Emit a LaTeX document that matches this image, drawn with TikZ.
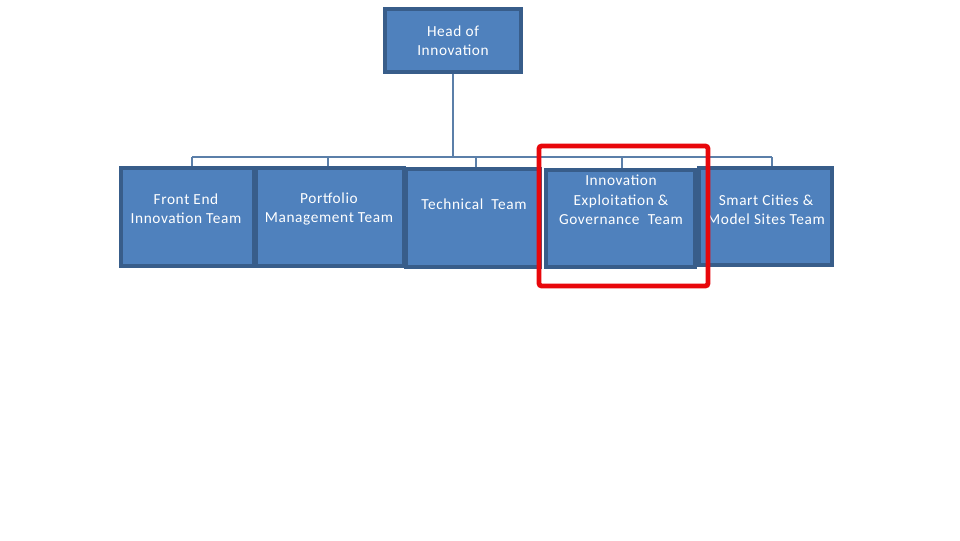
\documentclass[tikz,border=0pt]{standalone}
\usepackage{fontspec}
\setmainfont{Carlito}
\newfontfamily\spacedfont[LetterSpace=4]{Carlito}
\definecolor{boxfill}{HTML}{4F81BD}
\definecolor{boxedge}{HTML}{385D8A}
\definecolor{linecol}{HTML}{5B7FA9}
\definecolor{hlred}{HTML}{E8070B}
\begin{document}
\begin{tikzpicture}[x=0.75pt,y=-0.75pt,
  orgbox/.style={draw=boxedge, fill=boxfill, line width=2.3pt, inner sep=0pt},
  orgtext/.style={text=white, align=center, font=\spacedfont\fontsize{11.5}{14.5}\selectfont, inner sep=0pt},
  conn/.style={draw=linecol, line width=0.8pt},
  highlight/.style={draw=hlred, line width=3.6pt, rounded corners=2pt, inner sep=0pt}]
\useasboundingbox (0,0) rectangle (960,540);
% boxes
\node[orgbox, minimum width=136*0.75pt, minimum height=63*0.75pt] (head) at (453,40.5) {};
\node[orgbox, minimum width=133*0.75pt, minimum height=98*0.75pt] (b1) at (187.5,217) {};
\node[orgbox, minimum width=148*0.75pt, minimum height=98*0.75pt] (b2) at (330,217) {};
\node[orgbox, minimum width=134*0.75pt, minimum height=98*0.75pt] (b3) at (473,218) {};
\node[orgbox, minimum width=149*0.75pt, minimum height=97*0.75pt] (b4) at (620.5,218.5) {};
\node[orgbox, minimum width=133*0.75pt, minimum height=97*0.75pt] (b5) at (765.5,216.5) {};
% texts
\node[orgtext] (thead) at (453,41) {Head of\\Innovation};
\node[orgtext] (t1) at (186,209) {Front End\\Innovation Team};
\node[orgtext] (t2) at (329,209) {Portfolio\\Management Team};
\node[orgtext] (t3) at (474,204) {Technical\ \ Team};
\node[orgtext] (t4) at (621,200) {Innovation\\Exploitation \&\\Governance\ \ Team};
\node[orgtext] (t5) at (766,210) {Smart Cities \&\\Model Sites Team};
% connectors
\coordinate (bus) at (453,157);
\coordinate (d1) at (192,157);
\coordinate (d2) at (328,157);
\coordinate (d3) at (476,157);
\coordinate (d4) at (622,157);
\coordinate (d5) at (772,157);
\draw[conn] (head.south) -- (bus);
\draw[conn] (d1) -- (d5);
\draw[conn] (d1) -- (d1 |- b1.north);
\draw[conn] (d2) -- (d2 |- b2.north);
\draw[conn] (d3) -- (d3 |- b3.north);
\draw[conn] (d4) -- (d4 |- b4.north);
\draw[conn] (d5) -- (d5 |- b5.north);
% highlight
\node[highlight, minimum width=169*0.75pt, minimum height=140*0.75pt] (hl) at (623.5,216) {};
\end{tikzpicture}
\end{document}
